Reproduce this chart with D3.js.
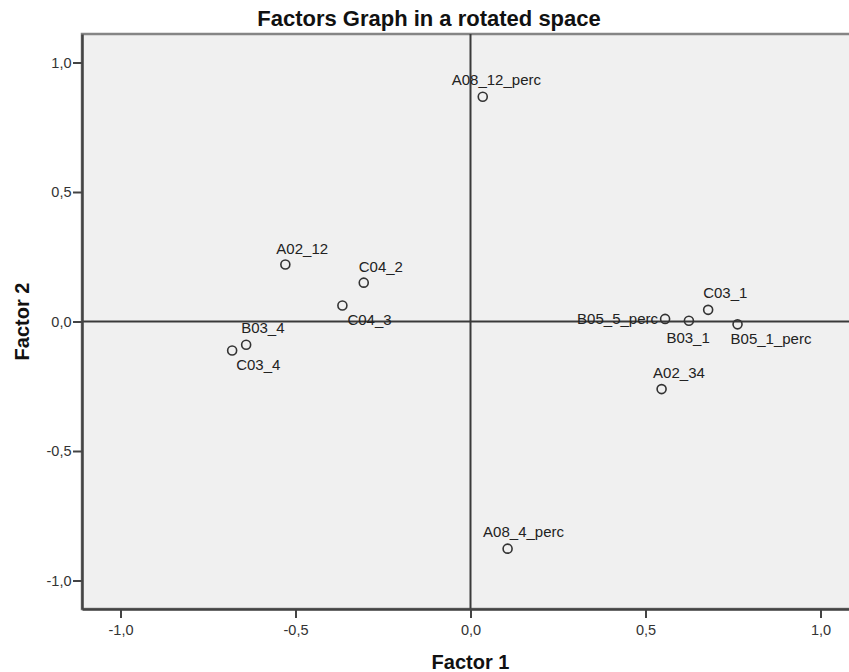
<!DOCTYPE html>
<html lang="en">

<head>
    <meta charset="UTF-8">
    <title>Factors Graph in a rotated space</title>
    <script src="https://cdn.jsdelivr.net/npm/d3@7"></script>
    <style>
        body {
            margin: 0;
            background-color: #ffffff;
            font-family: "Liberation Sans", Arial, sans-serif;
        }
    </style>
</head>

<body>
    <div id="chart"></div>

    <script>
        // variable names and their loadings on the two rotated factors
        const variables = ["A08_12_perc", "A02_12", "C04_2", "C04_3", "B03_4", "C03_4",
            "B05_5_perc", "B03_1", "C03_1", "B05_1_perc", "A02_34", "A08_4_perc"];
        const factor1 = [0.035, -0.529, -0.305, -0.366, -0.641, -0.681,
            0.556, 0.624, 0.679, 0.763, 0.546, 0.106];
        const factor2 = [0.868, 0.220, 0.150, 0.062, -0.090, -0.112,
            0.010, 0.003, 0.045, -0.011, -0.261, -0.877];
        const tickValues = [-1, -0.5, 0, 0.5, 1];

        // where each label sits relative to its marker (text start, baseline)
        const labelDx = [-31, -9, -5, 5, -5, 4, -88, -22.5, -5, -7, -8.5, -24.5];
        const labelDy = [-12, -11, -11, 19.5, -11.5, 19.5, 5, 22.5, -11.5, 20, -11.5, -11.5];

        const width = 849, height = 672;
        const margin = { top: 34, right: -10, bottom: 63, left: 82 };

        const svg = d3.select("#chart").append("svg")
            .attr("width", width)
            .attr("height", height);

        const x = d3.scaleLinear().domain([-1.11, 1.11])
            .range([margin.left, width - margin.right]);
        const y = d3.scaleLinear().domain([-1.11, 1.11])
            .range([height - margin.bottom, margin.top]);

        // comma decimals and a plain hyphen for negatives
        const fmt = d => d3.format(".1f")(d).replace(".", ",").replace("\u2212", "-");

        // plot background and frame
        svg.append("rect")
            .attr("x", x.range()[0])
            .attr("y", y.range()[1])
            .attr("width", x.range()[1] - x.range()[0])
            .attr("height", y.range()[0] - y.range()[1])
            .attr("fill", "#f0f0f0")
            .attr("stroke", "#858585")
            .attr("stroke-width", 2.5);

        // reference lines through zero
        svg.append("line")
            .attr("x1", x(0)).attr("x2", x(0))
            .attr("y1", y.range()[1]).attr("y2", y.range()[0])
            .attr("stroke", "#3a3a3a").attr("stroke-width", 2);
        svg.append("line")
            .attr("x1", x.range()[0]).attr("x2", x.range()[1])
            .attr("y1", y(0)).attr("y2", y(0))
            .attr("stroke", "#3a3a3a").attr("stroke-width", 2);

        const xAxis = svg.append("g")
            .attr("transform", `translate(0,${y.range()[0]})`)
            .call(d3.axisBottom(x).tickValues(tickValues).tickFormat(fmt)
                .tickSize(9).tickPadding(7).tickSizeOuter(0));

        const yAxis = svg.append("g")
            .attr("transform", `translate(${x.range()[0]},0)`)
            .call(d3.axisLeft(y).tickValues(tickValues).tickFormat(fmt)
                .tickSize(9).tickPadding(1.5).tickSizeOuter(0));

        [xAxis, yAxis].forEach(g => {
            g.select(".domain").attr("stroke", "#444").attr("stroke-width", 2.5);
            g.selectAll(".tick line").attr("stroke", "#444").attr("stroke-width", 2);
            g.selectAll(".tick text")
                .attr("fill", "#333")
                .style("font-family", "'Liberation Sans', Arial, sans-serif")
                .style("font-size", "14.5px");
        });

        // markers
        const points = variables.map((name, i) => ({ name, f1: factor1[i], f2: factor2[i], dx: labelDx[i], dy: labelDy[i] }));

        svg.append("g")
            .selectAll("circle")
            .data(points)
            .join("circle")
            .attr("cx", d => x(d.f1))
            .attr("cy", d => y(d.f2))
            .attr("r", 4.5)
            .attr("fill", "none")
            .attr("stroke", "#333")
            .attr("stroke-width", 1.6);

        svg.append("g")
            .selectAll("text")
            .data(points)
            .join("text")
            .attr("x", d => x(d.f1) + d.dx)
            .attr("y", d => y(d.f2) + d.dy)
            .attr("fill", "#222")
            .style("font-size", "15px")
            .text(d => d.name);

        // titles
        svg.append("text")
            .attr("x", 429)
            .attr("y", 26)
            .attr("text-anchor", "middle")
            .style("font-size", "22px")
            .style("font-weight", "bold")
            .attr("fill", "#111")
            .text("Factors Graph in a rotated space");

        svg.append("text")
            .attr("x", x(0))
            .attr("y", 669)
            .attr("text-anchor", "middle")
            .style("font-size", "20px")
            .style("font-weight", "bold")
            .attr("fill", "#111")
            .text("Factor 1");

        svg.append("text")
            .attr("transform", `translate(29,${y(0)}) rotate(-90)`)
            .attr("text-anchor", "middle")
            .style("font-size", "20px")
            .style("font-weight", "bold")
            .attr("fill", "#111")
            .text("Factor 2");
    </script>
</body>

</html>
